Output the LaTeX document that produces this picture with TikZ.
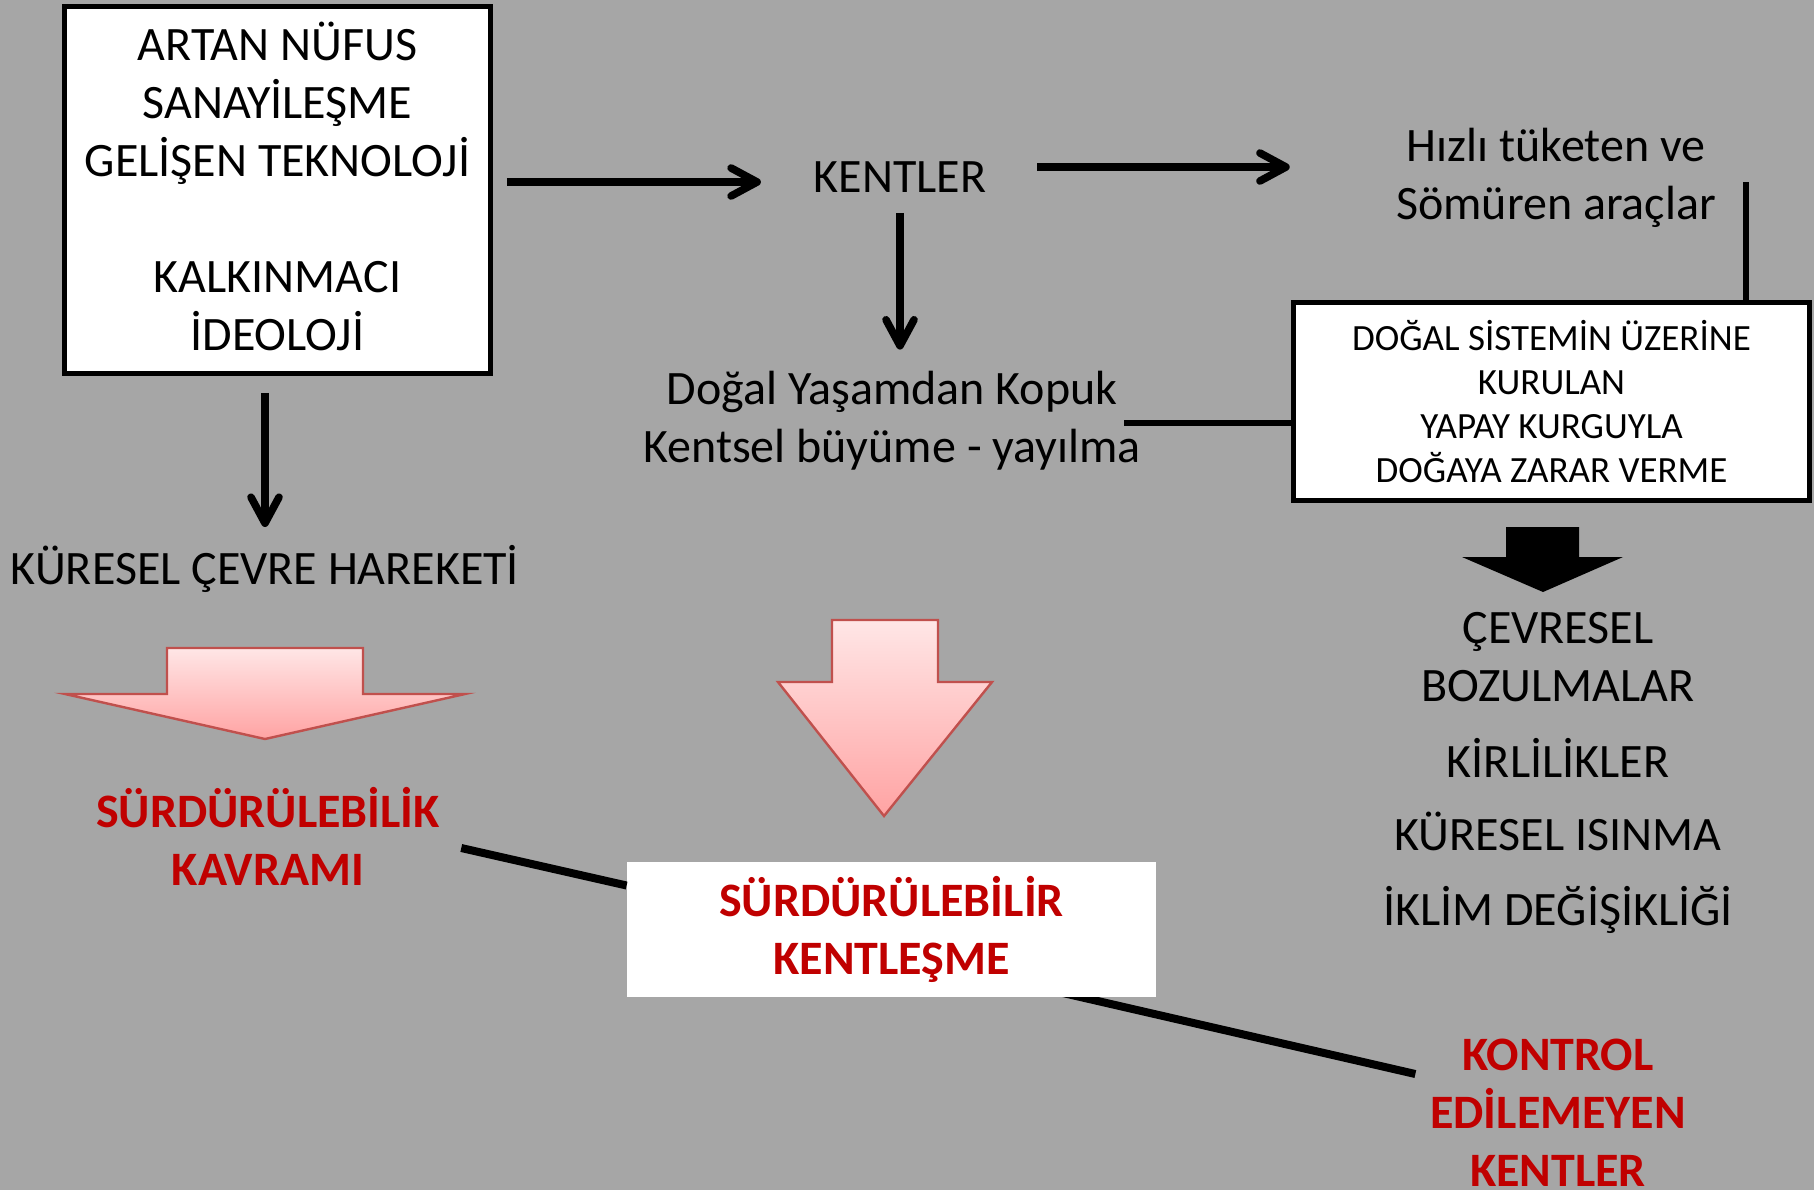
\documentclass[tikz,border=0pt]{standalone}
\usepackage{fontspec}
\setmainfont{Carlito}
\usetikzlibrary{arrows.meta,calc}
\definecolor{bggray}{HTML}{A6A6A6}
\definecolor{darkred}{HTML}{C00000}
\definecolor{pinkline}{HTML}{C0504D}
\definecolor{pinktop}{HTML}{FFE6E6}
\definecolor{pinkbot}{HTML}{FFA3A3}
\pgfdeclarelayer{back}
\pgfsetlayers{back,main}
\begin{document}
\begin{tikzpicture}[x=0.5pt,y=-0.5pt,
  txt/.style={inner sep=0pt, align=center, font=\fontsize{24pt}{29pt}\selectfont},
  redtxt/.style={inner sep=0pt, align=center, text=darkred, font=\fontsize{24pt}{29pt}\selectfont\bfseries},
  frame/.style={draw=black, fill=white, line width=2.4pt, inner sep=0pt},
  arr/.style={line width=3.8pt, -{Straight Barb[length=13pt,width=14pt,round]}},
  link/.style={line width=3pt},
  linkb/.style={line width=4pt},
  blockpink/.style={top color=pinktop, bottom color=pinkbot, draw=pinkline, line width=1.2pt, line join=miter}
]
\useasboundingbox (0,0) rectangle (1814,1190);
\clip (0,0) rectangle (1814,1190);
\begin{pgfonlayer}{back}
\fill[bggray] (0,0) rectangle (1814,1190);
\end{pgfonlayer}

% nodes
\node[frame, txt, minimum width=213pt, minimum height=183.5pt] (src) at (277.5,190)
  {ARTAN NÜFUS\\SANAYİLEŞME\\GELİŞEN TEKNOLOJİ\\\mbox{}\\KALKINMACI\\İDEOLOJİ\rule[-3.5pt]{0pt}{0pt}};
\node[txt] (kentler) at (900,177) {KENTLER};
\node[txt] (hiz) at (1556,177.5) {Hızlı tüketen ve\\Sömüren araçlar};
\node[frame, align=center, minimum width=258pt, minimum height=99pt,
      font=\fontsize{18.5pt}{22pt}\selectfont] (nat) at (1551.5,401.5)
  {DOĞAL SİSTEMİN ÜZERİNE\\KURULAN\\YAPAY KURGUYLA\\DOĞAYA ZARAR VERME};
\node[txt] (dogal) at (892,420.5) {Doğal Yaşamdan Kopuk\\Kentsel büyüme - yayılma};
\node[txt] (kuresel) at (265,569) {KÜRESEL ÇEVRE HAREKETİ};
\node[txt] (cevresel) at (1558,657) {ÇEVRESEL\\BOZULMALAR};
\node[txt] (kirli) at (1558,757.5) {KİRLİLİKLER};
\node[txt] (isinma) at (1558,831.5) {KÜRESEL ISINMA};
\node[txt] (iklim) at (1558,909.5) {İKLİM DEĞİŞİKLİĞİ};
\node[redtxt] (kavram) at (268,836.5) {SÜRDÜRÜLEBİLİK\\KAVRAMI};
\node[redtxt, fill=white, minimum width=264.5pt, minimum height=67.5pt] (sk) at (891.5,929.5)
  {SÜRDÜRÜLEBİLİR\\KENTLEŞME};
\node[redtxt] (kontrol) at (1558,1113) {KONTROL\\EDİLEMEYEN\\KENTLER};

% connectors
\draw[arr] ($(src.east |- kentler)+(14,5)$) -- ($(kentler.west)+(-52.5,5)$);
\draw[arr] ($(kentler.east)+(50.5,-10)$) -- ($(hiz.west)+(-106,-10.5)$);
\draw[link] ($(hiz.east)+(30,4.5)$) coordinate (v1) -- (v1 |- nat.north);
\draw[arr] ($(kentler.south)+(0,20)$) -- ($(kentler.south |- dogal.north)+(0,-21)$);
\draw[link] ($(dogal.east)+(-17,2.5)$) coordinate (d1) -- (d1 -| nat.west);
\draw[arr] ($(src.south -| kuresel)+(0,17)$) -- ($(kuresel.north)+(0,-18)$);
\draw[linkb] ($(kavram.east)+(21,11.5)$) -- ($(sk.west)+(0,-44)$);
\begin{pgfonlayer}{back}
\draw[linkb] ($(sk.south)+(108,-19)$) -- ($(kontrol.west)+(-14.5,-39)$);
\end{pgfonlayer}

% block arrows
\fill[black] (1506,527) -- (1579,527) -- (1579,557) -- (1623,557) -- (1543,592)
  -- (1462,557) -- (1506,557) -- cycle;
\path[blockpink] (167,648) -- (363,648) -- (363,694) -- (465,694) -- (265,739)
  -- (65,694) -- (167,694) -- cycle;
\path[blockpink] (832,620) -- (938,620) -- (938,682) -- (992,682) -- (884,816)
  -- (778,682) -- (832,682) -- cycle;
\end{tikzpicture}
\end{document}
